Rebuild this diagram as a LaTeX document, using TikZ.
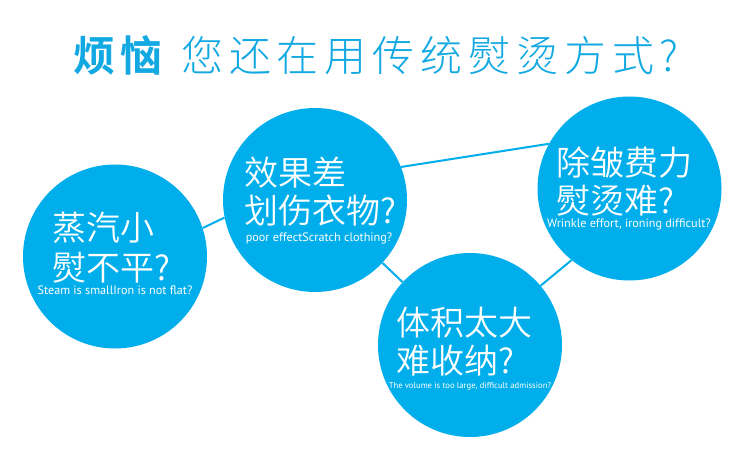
\documentclass[tikz,border=0pt]{standalone}
\usepackage{fontspec}
\setmainfont{PT Sans}
\newfontfamily\cjk{Noto Sans CJK SC DemiLight}
\newfontfamily\cjktitle{Noto Sans CJK SC Light}[LetterSpace=14]
\newfontfamily\cjktitleb{Noto Sans CJK SC Bold}[LetterSpace=12]
\definecolor{bub}{HTML}{00AEEB}
\definecolor{ttl}{HTML}{12A9E3}
\begin{document}
\begin{tikzpicture}[x=1pt,y=-1pt,
  bubble/.style={circle,fill=bub,draw=none,minimum size=184pt,inner sep=0pt},
  link/.style={draw=bub,line width=2pt},
  cn/.style={anchor=base west,inner sep=0pt,text=white,font=\cjk\fontsize{34}{34}\selectfont},
  en/.style={anchor=base,inner sep=0pt,text=white},
  ttlb/.style={anchor=base west,inner sep=0pt,text=ttl,font=\cjktitleb\fontsize{42}{42}\selectfont},
  ttll/.style={anchor=base west,inner sep=0pt,text=ttl,font=\cjktitle\fontsize{42}{42}\selectfont}]
\useasboundingbox[fill=white] (0,0) rectangle (750,455);
% title
\node[ttlb] (t1) at (73,71) {烦恼};
\node[ttll] (t2) at (181,71) {您还在用传统熨烫方式?};
% bubbles
\node[bubble] (c1) at (115,256.5) {};
\node[bubble] (c2) at (315,200) {};
\node[bubble] (c3) at (629.5,188.5) {};
\node[bubble] (c4) at (470,345) {};
% connectors
\draw[link] (c1.18) -- (c2.191);
\draw[link] (c2.21) -- (c3.151.5);
\draw[link] (c2.-43) -- (c4.137);
\draw[link] (c4.40.6) -- (c3.231);
% bubble 1
\node[cn] (a1) at (52,240) {蒸汽小};
\node[cn] (a2) at (52,280) {熨不平?};
\node[en,font=\fontsize{12.2}{12.2}\selectfont] (a3) at (115,294) {Steam is smallIron is not flat?};
% bubble 2
\node[cn] (b1) at (244,185) {效果差};
\node[cn] (b2) at (244,223) {划伤衣物?};
\node[en,font=\fontsize{12.2}{12.2}\selectfont] (b3) at (319,241) {poor effectScratch clothing?};
% bubble 3
\node[cn] (d1) at (556,175) {除皱费力};
\node[cn] (d2) at (556,213) {熨烫难?};
\node[en,font=\fontsize{12.2}{12.2}\selectfont] (d3) at (629,227) {Wrinkle effort, ironing difficult?};
% bubble 4
\node[cn] (e1) at (396,335) {体积太大};
\node[cn] (e2) at (396,373) {难收纳?};
\node[en,font=\fontsize{8.6}{8.6}\selectfont] (e3) at (470,388) {The volume is too large, difficult admission?};
\end{tikzpicture}
\end{document}
